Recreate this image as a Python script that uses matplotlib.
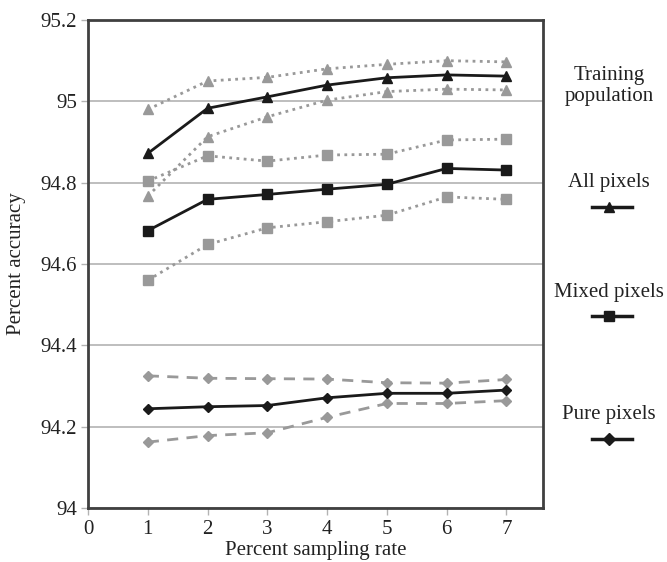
"""Percent accuracy vs percent sampling rate, with min/max envelopes."""
import matplotlib
matplotlib.use("Agg")
import matplotlib.pyplot as plt
from matplotlib.lines import Line2D

plt.rcParams["font.family"] = ["Liberation Serif", "DejaVu Serif"]

rates = [1, 2, 3, 4, 5, 6, 7]

all_hi = [94.98, 95.05, 95.059, 95.08, 95.091, 95.10, 95.097]
all_mean = [94.872, 94.983, 95.011, 95.04, 95.058, 95.065, 95.062]
all_lo = [94.767, 94.913, 94.962, 95.003, 95.024, 95.03, 95.028]

mixed_hi = [94.804, 94.866, 94.853, 94.868, 94.87, 94.905, 94.907]
mixed_mean = [94.682, 94.759, 94.771, 94.784, 94.796, 94.835, 94.831]
mixed_lo = [94.56, 94.648, 94.689, 94.704, 94.72, 94.765, 94.759]

pure_hi = [94.325, 94.319, 94.318, 94.317, 94.308, 94.307, 94.316]
pure_mean = [94.244, 94.249, 94.252, 94.271, 94.282, 94.282, 94.29]
pure_lo = [94.162, 94.178, 94.185, 94.223, 94.257, 94.257, 94.264]

yticks = [94, 94.2, 94.4, 94.6, 94.8, 95, 95.2]
ytick_labels = ["94", "94.2", "94.4", "94.6", "94.8", "95", "95.2"]

BLACK = "#1a1a1a"
GRAY = "#999999"
SPINE = "#404040"
TEXT = "#222222"
FS = 15

fig = plt.figure(figsize=(6.67, 5.62), dpi=100)
ax = fig.add_axes([0.132, 0.0961, 0.682, 0.8683])

groups = [
    ("^", all_hi, all_mean, all_lo, (0, (1, 1.6)), 7.5),
    ("s", mixed_hi, mixed_mean, mixed_lo, (0, (1, 1.6)), 7.5),
    ("D", pure_hi, pure_mean, pure_lo, (0, (4, 3)), 5.5),
]
for marker, hi, mean, lo, env_style, ms in groups:
    for env in (hi, lo):
        ax.plot(rates, env, color=GRAY, lw=2, linestyle=env_style,
                marker=marker, ms=ms, mfc=GRAY, mec=GRAY, zorder=2)
    ax.plot(rates, mean, color=BLACK, lw=2, marker=marker, ms=ms,
            mfc=BLACK, mec=BLACK, zorder=3)

ax.set_xlim(0, 7.61)
ax.set_ylim(94, 95.2)
ax.set_xticks(range(0, 8))
ax.set_yticks(yticks)
ax.set_yticklabels(ytick_labels)
ax.yaxis.grid(True, color="#b3b3b3", lw=1.2)
ax.set_axisbelow(True)
for s in ax.spines.values():
    s.set_color(SPINE)
    s.set_linewidth(2)
ax.tick_params(axis="both", length=5, width=1, color="#b3b3b3", labelsize=FS,
               labelcolor=TEXT)
ax.tick_params(axis="y", pad=3)
ax.tick_params(axis="x", pad=4)

ax.set_xlabel("Percent sampling rate", fontsize=FS, color=TEXT, labelpad=1)
ax.set_ylabel("Percent accuracy", fontsize=FS, color=TEXT, labelpad=10)

# Side legend
cx = 609 / 667
entries = [
    ("Training\npopulation", 86, None),
    ("All pixels", 183, "^"),
    ("Mixed pixels", 292, "s"),
    ("Pure pixels", 415, "D"),
]
for label, ypx, marker in entries:
    fig.text(cx, 1 - ypx / 562, label, ha="center", va="center", fontsize=FS,
             color=TEXT, linespacing=1.15)
    if marker:
        ym = 1 - (ypx + 24) / 562
        fig.lines.append(Line2D([592 / 667, cx, 632 / 667], [ym, ym, ym],
                                transform=fig.transFigure, color=BLACK, lw=2.5,
                                marker=marker, markevery=[1],
                                ms=6 if marker == "D" else 7,
                                mfc=BLACK, mec=BLACK))

fig.savefig("out.png", dpi=100)
